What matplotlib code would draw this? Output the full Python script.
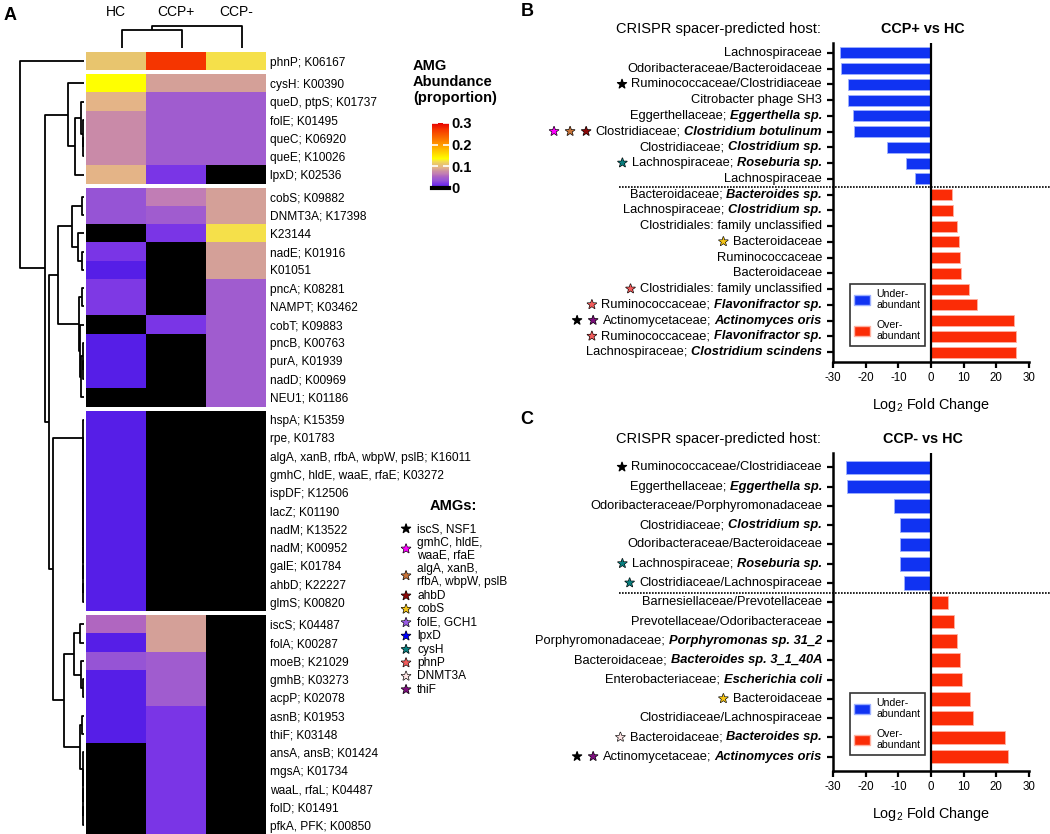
import matplotlib
matplotlib.use("Agg")
import matplotlib.pyplot as plt
import matplotlib.patheffects as pe
import matplotlib.transforms as mtransforms
from matplotlib.colors import LinearSegmentedColormap, Normalize
from matplotlib.cm import ScalarMappable
from matplotlib.patches import Patch
import numpy as np

plt.rcParams['font.family'] = ['Liberation Sans', 'DejaVu Sans']
plt.rcParams['mathtext.fontset'] = 'custom'
plt.rcParams['mathtext.rm'] = 'Liberation Sans'
plt.rcParams['mathtext.it'] = 'Liberation Sans:italic'
plt.rcParams['mathtext.bf'] = 'Liberation Sans:bold'
plt.rcParams['axes.unicode_minus'] = False

# ---------------- heatmap data (A) ----------------
samples = ["HC", "CCP+", "CCP-"]
group_sizes = [1, 6, 12, 11, 12]
amg_labels = [
    "phnP; K06167",
    "cysH: K00390", "queD, ptpS; K01737", "folE; K01495", "queC; K06920", "queE; K10026", "lpxD; K02536",
    "cobS; K09882", "DNMT3A; K17398", "K23144", "nadE; K01916", "K01051", "pncA; K08281",
    "NAMPT; K03462", "cobT; K09883", "pncB, K00763", "purA, K01939", "nadD; K00969", "NEU1; K01186",
    "hspA; K15359", "rpe, K01783", "algA, xanB, rfbA, wbpW, pslB; K16011",
    "gmhC, hldE, waaE, rfaE; K03272", "ispDF; K12506", "lacZ; K01190", "nadM; K13522",
    "nadM; K00952", "galE; K01784", "ahbD; K22227", "glmS; K00820",
    "iscS; K04487", "folA; K00287", "moeB; K21029", "gmhB; K03273", "acpP; K02078", "asnB; K01953",
    "thiF; K03148", "ansA, ansB; K01424", "mgsA; K01734", "waaL, rfaL; K04487", "folD; K01491",
    "pfkA, PFK; K00850",
]
hc = [0.11,
      0.135, 0.095, 0.075, 0.075, 0.075, 0.095,
      0.035, 0.035, 0.0, 0.02, 0.004, 0.022, 0.022, 0.0, 0.004, 0.004, 0.004, 0.0,
      0.004, 0.004, 0.004, 0.004, 0.004, 0.004, 0.004, 0.004, 0.004, 0.004, 0.004,
      0.055, 0.004, 0.035, 0.004, 0.004, 0.004, 0.004, 0.0, 0.0, 0.0, 0.0, 0.0]
ccp_pos = [0.27,
           0.085, 0.045, 0.045, 0.045, 0.045, 0.02,
           0.065, 0.045, 0.02, 0.0, 0.0, 0.0, 0.0, 0.02, 0.0, 0.0, 0.0, 0.0,
           0.0, 0.0, 0.0, 0.0, 0.0, 0.0, 0.0, 0.0, 0.0, 0.0, 0.0,
           0.085, 0.085, 0.045, 0.045, 0.045, 0.02, 0.02, 0.02, 0.02, 0.02, 0.02, 0.02]
ccp_neg = [0.125,
           0.085, 0.045, 0.045, 0.045, 0.045, 0.0,
           0.085, 0.085, 0.125, 0.085, 0.085, 0.045, 0.045, 0.045, 0.045, 0.045, 0.045, 0.045,
           0.0, 0.0, 0.0, 0.0, 0.0, 0.0, 0.0, 0.0, 0.0, 0.0, 0.0,
           0.0, 0.0, 0.0, 0.0, 0.0, 0.0, 0.0, 0.0, 0.0, 0.0, 0.0, 0.0]

cmap_stops = [0.0, 0.004, 0.02, 0.035, 0.045, 0.055, 0.065, 0.075, 0.085,
              0.095, 0.11, 0.125, 0.135, 0.2, 0.27, 0.3]
cmap_colors = ['#000000', '#5a20f2', '#7a35e6', '#9654d5', '#a05ccf', '#b066c0',
               '#c17db5', '#c98aa8', '#d4a098', '#e4b487', '#e8c56e', '#f5e04a',
               '#ffff00', '#ff9a00', '#f53500', '#e60000']


def chain(leaves, h):
    node = leaves[-1]
    for lf in reversed(leaves[:-1]):
        node = (lf, node, h)
    return node


# row dendrogram (leaf index, leaf index, link height)
g2 = (1, ((2, (3, (4, 5, 0.5), 1.0), 2.5), 6, 9), 16)
g3 = (((7, 8, 2), (9, (10, 11, 2), 6), 12),
      ((12, 13, 1.5), (14, ((15, (16, 17, 0.5), 1), 18, 2.5), 4), 5), 26)
g4 = chain(list(range(19, 30)), 0.8)
g5 = (((30, 31, 4), (32, (33, 34, 1), 2.5), 10),
      ((35, 36, 1.5), chain(list(range(37, 42)), 0.8), 4), 20)
row_tree = (0, (g2, (g3, (g4, g5, 31), 35), 39), 64)
col_tree = ((0, 1, 18), 2, 22)

# AMG star legend
amg_keys = ["iscS", "gmhC", "algA", "ahbD", "cobS", "folE", "lpxD", "cysH", "phnP", "DNMT3A", "thiF"]
amg_names = ["iscS, NSF1", "gmhC, hldE,\nwaaE, rfaE", "algA, xanB,\nrfbA, wbpW, pslB", "ahbD",
             "cobS", "folE, GCH1", "lpxD", "cysH", "phnP", "DNMT3A", "thiF"]
amg_colors = ["#000000", "#ff00ff", "#c8743a", "#8b0a0a", "#f5c518", "#9b5de5",
              "#0000ff", "#0a7f7f", "#f25c5c", "#fde4e4", "#7d0f7d"]
star_color = dict(zip(amg_keys, amg_colors))

# ---------------- panel B ----------------
b_family = ["Lachnospiraceae", "Odoribacteraceae/Bacteroidaceae", "Ruminococcaceae/Clostridiaceae",
            "Citrobacter phage SH3", "Eggerthellaceae;", "Clostridiaceae;", "Clostridiaceae;",
            "Lachnospiraceae;", "Lachnospiraceae", "Bacteroidaceae;", "Lachnospiraceae;",
            "Clostridiales: family unclassified", "Bacteroidaceae", "Ruminococcaceae", "Bacteroidaceae",
            "Clostridiales: family unclassified", "Ruminococcaceae;", "Actinomycetaceae;",
            "Ruminococcaceae;", "Lachnospiraceae;"]
b_species = ["", "", "", "", "Eggerthella sp.", "Clostridium botulinum", "Clostridium sp.",
             "Roseburia sp.", "", "Bacteroides sp.", "Clostridium sp.", "", "", "", "", "",
             "Flavonifractor sp.", "Actinomyces oris", "Flavonifractor sp.", "Clostridium scindens"]
b_stars = [[], [], ["iscS"], [], [], ["gmhC", "algA", "ahbD"], [], ["cysH"], [], [], [], [],
           ["cobS"], [], [], ["phnP"], ["phnP"], ["iscS", "thiF"], ["phnP"], []]
b_lfc = [-27.8, -27.5, -25.3, -25.3, -23.9, -23.7, -13.5, -7.7, -4.9,
         6.3, 6.8, 8.0, 8.5, 9.0, 9.2, 11.7, 14.0, 25.5, 25.9, 25.9]

# ---------------- panel C ----------------
c_family = ["Ruminococcaceae/Clostridiaceae", "Eggerthellaceae;", "Odoribacteraceae/Porphyromonadaceae",
            "Clostridiaceae;", "Odoribacteraceae/Bacteroidaceae", "Lachnospiraceae;",
            "Clostridiaceae/Lachnospiraceae", "Barnesiellaceae/Prevotellaceae",
            "Prevotellaceae/Odoribacteraceae", "Porphyromonadaceae;", "Bacteroidaceae;",
            "Enterobacteriaceae;", "Bacteroidaceae", "Clostridiaceae/Lachnospiraceae",
            "Bacteroidaceae;", "Actinomycetaceae;"]
c_species = ["", "Eggerthella sp.", "", "Clostridium sp.", "", "Roseburia sp.", "", "", "",
             "Porphyromonas sp. 31_2", "Bacteroides sp. 3_1_40A", "Escherichia coli", "", "",
             "Bacteroides sp.", "Actinomyces oris"]
c_stars = [["iscS"], [], [], [], [], ["cysH"], ["cysH"], [], [], [], [], [], ["cobS"], [], ["DNMT3A"],
           ["iscS", "thiF"]]
c_lfc = [-26.0, -25.7, -11.2, -9.5, -9.5, -9.5, -8.2,
         5.3, 7.1, 8.0, 8.8, 9.4, 11.9, 12.8, 22.7, 23.7]

BLUE, BLUE_EDGE = "#1033f2", "#9db0ff"
RED, RED_EDGE = "#fb2c06", "#ffb0a0"

W, H = 1050, 834
fig = plt.figure(figsize=(W / 100, H / 100), dpi=100)


def box(x0, y0, x1, y1):
    return [x0 / W, 1 - y1 / H, (x1 - x0) / W, (y1 - y0) / H]


def draw_tree(ax, node, leaf_pos, vertical=False):
    if isinstance(node, int):
        return leaf_pos[node], 0.0
    a, b, h = node
    pa, ha = draw_tree(ax, a, leaf_pos, vertical)
    pb, hb = draw_tree(ax, b, leaf_pos, vertical)
    hs, ps = [ha, h, h, hb], [pa, pa, pb, pb]
    if vertical:
        ax.plot(ps, hs, color="black", lw=1.3, solid_capstyle="butt")
    else:
        ax.plot(hs, ps, color="black", lw=1.3, solid_capstyle="butt")
    return (pa + pb) / 2, h


# ---------------- A: heatmap ----------------
cmap = LinearSegmentedColormap.from_list(
    "amg", list(zip(np.array(cmap_stops) / 0.3, cmap_colors)), N=1024)
norm = Normalize(0, 0.3)

gap = 0.22
starts, pos = [], 0.0
for n in group_sizes:
    starts.append(pos)
    pos += n + gap
total = pos - gap
centers = np.concatenate([s + np.arange(n) + 0.5 for s, n in zip(starts, group_sizes)])
vals = np.column_stack([hc, ccp_pos, ccp_neg])

row_h = 18.24
axh = fig.add_axes(box(86, 52, 266, 52 + row_h * total))
i0 = 0
for s, n in zip(starts, group_sizes):
    axh.pcolormesh(np.arange(4), s + np.arange(n + 1), vals[i0:i0 + n],
                   cmap=cmap, norm=norm, shading="flat")
    i0 += n
axh.set_xlim(0, 3)
axh.set_ylim(total, 0)
axh.set_xticks([])
axh.set_yticks(centers)
axh.set_yticklabels(amg_labels, fontsize=8.6)
axh.yaxis.tick_right()
axh.tick_params(axis="y", length=0, pad=3)
for sp in axh.spines.values():
    sp.set_visible(False)
trans = mtransforms.blended_transform_factory(axh.transData, axh.transAxes)
for i, s in enumerate(samples):
    axh.text(i + 0.5, 1 + 40 / (row_h * total), s, transform=trans,
             ha="center", va="center", fontsize=10)

axc = fig.add_axes(box(92, 20, 272, 48))
draw_tree(axc, col_tree, [0.5, 1.5, 2.5], vertical=True)
axc.set_xlim(0, 3)
axc.set_ylim(0, 28)
axc.axis("off")

axd = fig.add_axes(box(10, 52, 84, 52 + row_h * total))
draw_tree(axd, row_tree, centers)
axd.set_xlim(74, 0)
axd.set_ylim(total, 0)
axd.axis("off")

# colour bar
fig.text(413 / W, 1 - 82 / H, "AMG\nAbundance\n(proportion)", ha="left", va="center",
         fontsize=10.5, fontweight="bold", linespacing=1.2)
cax = fig.add_axes(box(432, 123, 449, 188))
cb = fig.colorbar(ScalarMappable(norm=norm, cmap=cmap), cax=cax, ticks=[0, 0.1, 0.2, 0.3])
cb.outline.set_visible(False)
cax.set_yticklabels(["0", "0.1", "0.2", "0.3"], fontsize=10.5, fontweight="bold")
cax.tick_params(direction="in", color="white", length=4, width=1.2, left=True, right=True, pad=2)
cax.axhline(0, color="black", lw=3, clip_on=False)

# star legend
star_fx = [pe.withStroke(linewidth=0.9, foreground="black")]
fig.text(453 / W, 1 - 506 / H, "AMGs:", ha="center", va="center", fontsize=10.5, fontweight="bold")
cursor = 529
for name, col in zip(amg_names, amg_colors):
    nl = name.count("\n") + 1
    yc = cursor + (nl - 1) * 13.4 / 2
    fig.text(417 / W, 1 - yc / H, name, ha="left", va="center", fontsize=8.6, linespacing=1.1)
    fig.text(406 / W, 1 - yc / H, "★", ha="center", va="center", fontsize=8.5, color=col,
             family="DejaVu Sans", path_effects=star_fx)
    cursor += nl * 13.4


# ---------------- B and C: bar panels ----------------
def host_panel(rect, title, families, species, stars, lfc, margin):
    ax = fig.add_axes(rect)
    y = np.arange(len(lfc))
    colors = [BLUE if v < 0 else RED for v in lfc]
    edges = [BLUE_EDGE if v < 0 else RED_EDGE for v in lfc]
    ax.barh(y, lfc, height=0.7, color=colors, edgecolor=edges, linewidth=0.6)
    ax.axvline(0, color="black", lw=1.6)
    n_under = sum(v < 0 for v in lfc)
    ax.axhline(n_under - 0.5, xmin=-1.09, xmax=1.12, clip_on=False, color="black",
               lw=1.2, ls=(0, (1, 0.8)))
    ax.set_xlim(-30, 30)
    ax.set_ylim(len(lfc) - 1 + margin, -margin)
    ax.set_xticks(range(-30, 31, 10))
    ax.set_yticks(y)
    ax.set_yticklabels([])
    ax.tick_params(axis="y", length=4.5, width=1.6)
    ax.tick_params(axis="x", length=4, width=1.6, labelsize=8.3, pad=3)
    for side in ("top", "right"):
        ax.spines[side].set_visible(False)
    for side in ("left", "bottom"):
        ax.spines[side].set_linewidth(1.8)
    ax.set_xlabel("Log$_2$ Fold Change", fontsize=10.4, labelpad=9)
    ax.text(0.46, 1.044, title, transform=ax.transAxes, ha="center", va="center",
            fontsize=10.4, fontweight="bold")
    ax.text(-0.061, 1.044, "CRISPR spacer-predicted host:", transform=ax.transAxes,
            ha="right", va="center", fontsize=10.5)

    for i, (fam, spc, st) in enumerate(zip(families, species, stars)):
        if spc:
            t = ax.annotate(spc, xy=(0, i), xycoords=("axes fraction", "data"), xytext=(-8, 0),
                            textcoords="offset points", ha="right", va="center",
                            fontsize=9.3, fontweight="bold", fontstyle="italic")
            t = ax.annotate(fam, xy=(0, 0.5), xycoords=t, xytext=(-2.6, 0),
                            textcoords="offset points", ha="right", va="center", fontsize=9.3)
        else:
            t = ax.annotate(fam, xy=(0, i), xycoords=("axes fraction", "data"), xytext=(-8, 0),
                            textcoords="offset points", ha="right", va="center", fontsize=9.3)
        gap_pt = 3
        for key in reversed(st):
            t = ax.annotate("★", xy=(0, 0.5), xycoords=t, xytext=(-gap_pt, 0),
                            textcoords="offset points", ha="right", va="center",
                            fontsize=8.5, color=star_color[key], family="DejaVu Sans",
                            path_effects=star_fx)
            gap_pt = 4

    handles = [Patch(facecolor=BLUE, edgecolor=BLUE_EDGE), Patch(facecolor=RED, edgecolor=RED_EDGE)]
    leg = ax.legend(handles, ["Under-\nabundant", "Over-\nabundant"], loc="lower left",
                    bbox_to_anchor=(0.06, 0.035), fancybox=False, framealpha=1,
                    edgecolor="#333333", fontsize=7.6, handlelength=1.5, handleheight=1.05,
                    borderpad=0.4, labelspacing=0.9, handletextpad=0.6)
    leg.get_frame().set_linewidth(1.2)
    return ax


host_panel(box(833, 43, 1029, 362), "CCP+ vs HC", b_family, b_species, b_stars, b_lfc, 0.63)
host_panel(box(833, 453, 1029, 771), "CCP- vs HC", c_family, c_species, c_stars, c_lfc, 0.74)

for letter, x, y in [("A", 10, 15), ("B", 527, 12), ("C", 527, 420)]:
    fig.text(x / W, 1 - y / H, letter, ha="center", va="center", fontsize=13, fontweight="bold")

fig.savefig("out.png", dpi=100)
